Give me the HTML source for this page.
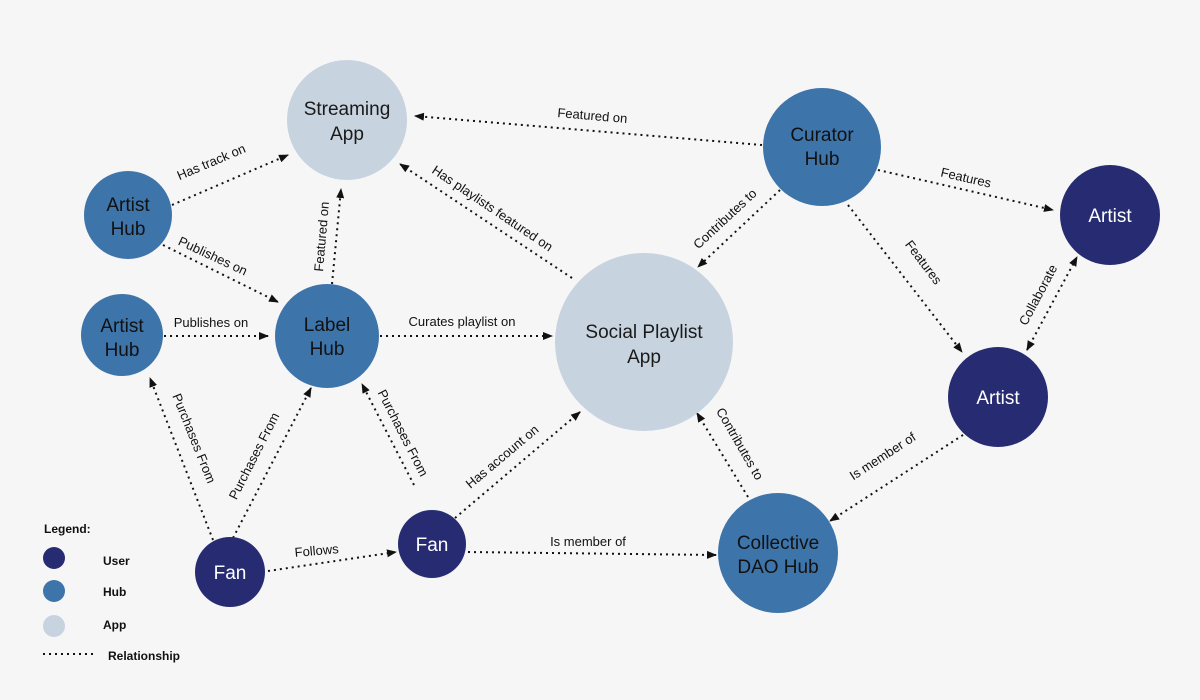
<!DOCTYPE html>
<html><head><meta charset="utf-8"><style>
html,body{margin:0;padding:0;background:#f6f6f6;}
svg{display:block;font-family:"Liberation Sans",sans-serif;}
.e{stroke:#111;stroke-width:2;stroke-dasharray:2 4;fill:none;}
.l{font-size:13px;fill:#111;text-anchor:middle;}
.n{font-size:19px;text-anchor:middle;}
</style></head><body>
<svg width="1200" height="700" viewBox="0 0 1200 700">
<defs>
<marker id="a" markerWidth="10" markerHeight="8" refX="9" refY="4" orient="auto" markerUnits="userSpaceOnUse"><path d="M0,0 L10,4 L0,8 Z" fill="#111"/></marker>
<marker id="s" markerWidth="10" markerHeight="8" refX="1" refY="4" orient="auto" markerUnits="userSpaceOnUse"><path d="M10,0 L0,4 L10,8 Z" fill="#111"/></marker>
</defs>
<rect width="1200" height="700" fill="#f6f6f6"/>
<g marker-end="url(#a)">
<line class="e" x1="172" y1="205" x2="288" y2="155"/>
<line class="e" x1="163" y1="245" x2="278" y2="302"/>
<line class="e" x1="164" y1="336" x2="268" y2="336"/>
<line class="e" x1="332" y1="284" x2="341" y2="189"/>
<line class="e" x1="380" y1="336" x2="552" y2="336"/>
<line class="e" x1="572" y1="278" x2="400" y2="164"/>
<line class="e" x1="762" y1="145" x2="415" y2="116"/>
<line class="e" x1="780" y1="190" x2="698" y2="267"/>
<line class="e" x1="878" y1="170" x2="1053" y2="210"/>
<line class="e" x1="848" y1="205" x2="962" y2="352"/>
<line class="e" x1="963" y1="435" x2="830" y2="521"/>
<line class="e" x1="748" y1="497" x2="697" y2="413"/>
<line class="e" x1="468" y1="552" x2="716" y2="555"/>
<line class="e" x1="455" y1="518" x2="580" y2="412"/>
<line class="e" x1="414" y1="485" x2="362" y2="384"/>
<line class="e" x1="233" y1="538" x2="311" y2="388"/>
<line class="e" x1="213" y1="540" x2="150" y2="378"/>
<line class="e" x1="268" y1="571" x2="396" y2="552"/>
<line class="e" x1="1027" y1="350" x2="1077" y2="257" marker-start="url(#s)"/>
</g>
<g class="l">
<text transform="translate(213,166) rotate(-23)">Has track on</text>
<text transform="translate(211,260) rotate(25)">Publishes on</text>
<text x="211" y="327">Publishes on</text>
<text transform="translate(326,237) rotate(-85)">Featured on</text>
<text x="462" y="326">Curates playlist on</text>
<text transform="translate(490,212) rotate(34)">Has playlists featured on</text>
<text transform="translate(592,120) rotate(5)">Featured on</text>
<text transform="translate(728,222) rotate(-43)">Contributes to</text>
<text transform="translate(965,182) rotate(13)">Features</text>
<text transform="translate(920,265) rotate(53)">Features</text>
<text transform="translate(1042,297) rotate(-62)">Collaborate</text>
<text transform="translate(885,460) rotate(-33)">Is member of</text>
<text transform="translate(736,446) rotate(60)">Contributes to</text>
<text x="588" y="546">Is member of</text>
<text transform="translate(505,460) rotate(-40)">Has account on</text>
<text transform="translate(399,435) rotate(63)">Purchases From</text>
<text transform="translate(258,458) rotate(-63)">Purchases From</text>
<text transform="translate(190,440) rotate(68)">Purchases From</text>
<text transform="translate(317,555) rotate(-5)">Follows</text>
</g>
<g class="n">
<circle cx="347" cy="120" r="60" fill="#c8d3e0"/>
<text x="347" y="115" fill="#1a1a1a">Streaming</text><text x="347" y="140" fill="#1a1a1a">App</text>
<circle cx="128" cy="215" r="44" fill="#3d74aa"/>
<text x="128" y="211" fill="#111">Artist</text><text x="128" y="235" fill="#111">Hub</text>
<circle cx="122" cy="335" r="41" fill="#3d74aa"/>
<text x="122" y="332" fill="#111">Artist</text><text x="122" y="356" fill="#111">Hub</text>
<circle cx="327" cy="336" r="52" fill="#3d74aa"/>
<text x="327" y="331" fill="#111">Label</text><text x="327" y="355" fill="#111">Hub</text>
<circle cx="644" cy="342" r="89" fill="#c8d3e0"/>
<text x="644" y="338" fill="#1a1a1a">Social Playlist</text><text x="644" y="363" fill="#1a1a1a">App</text>
<circle cx="822" cy="147" r="59" fill="#3d74aa"/>
<text x="822" y="141" fill="#111">Curator</text><text x="822" y="165" fill="#111">Hub</text>
<circle cx="1110" cy="215" r="50" fill="#272c72"/>
<text x="1110" y="222" fill="#fff">Artist</text>
<circle cx="998" cy="397" r="50" fill="#272c72"/>
<text x="998" y="404" fill="#fff">Artist</text>
<circle cx="778" cy="553" r="60" fill="#3d74aa"/>
<text x="778" y="549" fill="#111">Collective</text><text x="778" y="573" fill="#111">DAO Hub</text>
<circle cx="230" cy="572" r="35" fill="#272c72"/>
<text x="230" y="579" fill="#fff">Fan</text>
<circle cx="432" cy="544" r="34" fill="#272c72"/>
<text x="432" y="551" fill="#fff">Fan</text>
</g>
<g font-size="12" font-weight="bold" fill="#111">
<text x="44" y="533">Legend:</text>
<circle cx="54" cy="558" r="11" fill="#272c72"/><text x="103" y="565">User</text>
<circle cx="54" cy="591" r="11" fill="#3d74aa"/><text x="103" y="596">Hub</text>
<circle cx="54" cy="626" r="11" fill="#c8d3e0"/><text x="103" y="629">App</text>
<line class="e" x1="43" y1="654" x2="97" y2="654"/><text x="108" y="660">Relationship</text>
</g>
</svg>
</body></html>
